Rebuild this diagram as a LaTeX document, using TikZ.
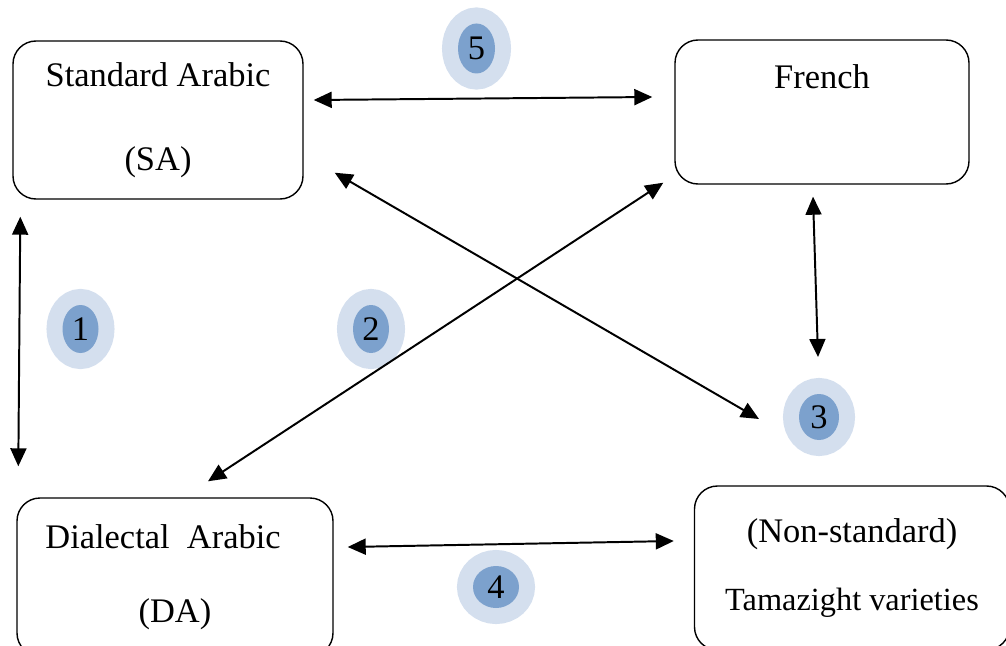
\documentclass[tikz,border=0pt]{standalone}
\usepackage{fontspec}
\setmainfont{Liberation Serif}
\usepackage{tikz}
\usetikzlibrary{shapes,arrows.meta,positioning}
\definecolor{haloblue}{RGB}{212,223,238}
\definecolor{dotblue}{RGB}{124,161,205}
\newcommand{\langfont}{\fontsize{24.5pt}{29pt}\selectfont}

\begin{document}
\begin{tikzpicture}[
    langbox/.style={draw, rounded corners=0.575cm, line width=1pt, align=center, font=\langfont},
    badge/.style={ellipse, fill=dotblue, preaction={draw=haloblue, line width=0.8cm},
        minimum width=0.9cm, minimum height=1.2cm, inner sep=0pt, font=\langfont},
    link/.style={{Triangle[length=0.45cm,width=0.4cm]}-{Triangle[length=0.45cm,width=0.4cm]}, line width=1.4pt}
]
    \path[use as bounding box, clip] (0,0) rectangle (25.15,16.125);

    \node[langbox, minimum width=7.25cm, minimum height=3.95cm] (sa) at (3.95,13.125) {Standard Arabic\\[30.7pt](SA)};
    \node[langbox, minimum width=7.35cm, minimum height=3.6cm, text depth=1.78cm] (fr) at (20.55,13.325) {French};
    \node[langbox, minimum width=7.9cm, minimum height=3.95cm] (da) at (4.375,1.7) {Dialectal~ Arabic\hspace*{0.6cm}\\[23.6pt](DA)};
    \node[langbox, minimum width=7.875cm, minimum height=4.1cm] (tam) at (21.3,1.925) {(Non-standard)\\[20pt]{\fontsize{23pt}{29pt}\selectfont Tamazight varieties}};

    \node[badge] (b1) at (2.0125,7.9) {1};
    \node[badge] (b2) at (9.275,7.9) {2};
    \node[badge, minimum width=1.0cm, minimum height=1.15cm] (b3) at (20.475,5.7) {3};
    \node[badge, minimum width=1.15cm, minimum height=1.05cm] (b4) at (12.4,1.45) {4};
    \node[badge, minimum width=0.925cm, minimum height=1.25cm] (b5) at (11.9125,14.9125) {5};

    \draw[link] ([shift={(0.25,0.5)}]sa.east) -- ([shift={(-0.55,0.375)}]fr.west);
    \draw[link] ([shift={(0.2,-0.425)}]sa.south west) -- ([shift={(0.05,0.775)}]da.north west);
    \draw[link] ([shift={(0.775,0.675)}]sa.south east) -- ([shift={(-1.5,-0.05)}]b3.center);
    \draw[link] ([shift={(0.825,0.4)}]da.north) -- ([shift={(-0.275,0.05)}]fr.south west);
    \draw[link] ([shift={(-0.225,-0.3)}]fr.south) -- ([shift={(-0.025,1.5)}]b3.center);
    \draw[link] ([shift={(0.35,0.75)}]da.east) -- ([shift={(-0.5,0.675)}]tam.west);
\end{tikzpicture}
\end{document}
